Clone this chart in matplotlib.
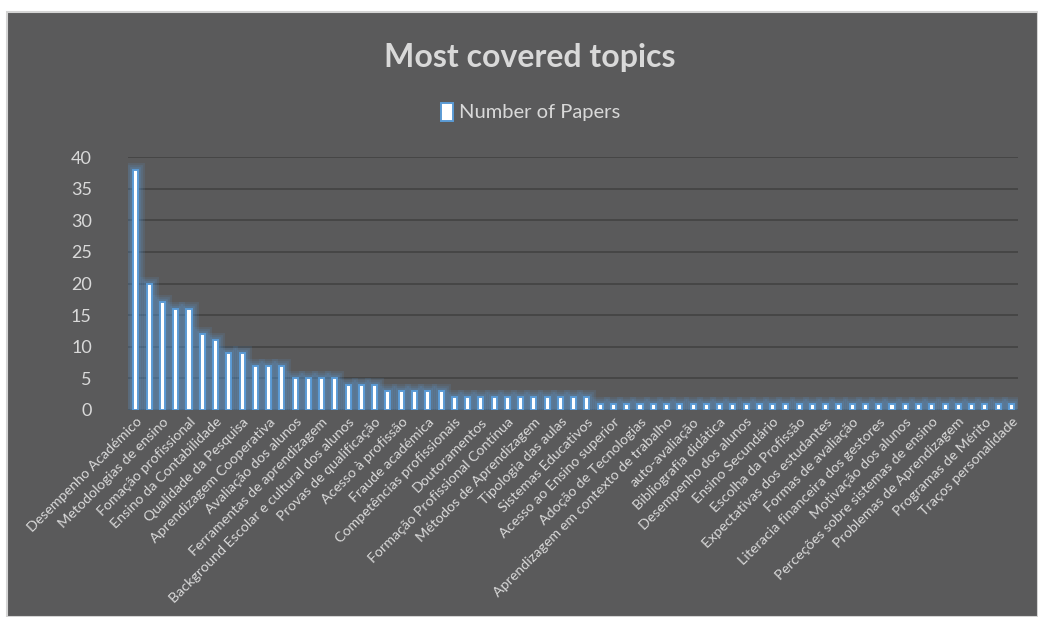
import matplotlib
matplotlib.use("Agg")
import matplotlib.pyplot as plt
from matplotlib.patches import Rectangle
import numpy as np

plt.rcParams['font.family'] = ['Lato', 'DejaVu Sans']

values = [38, 20, 17, 16, 16, 12, 11, 9, 9, 7, 7, 7, 5, 5, 5, 5, 4, 4, 4,
          3, 3, 3, 3, 3,
          2, 2, 2, 2, 2, 2, 2, 2, 2, 2, 2,
          1, 1, 1, 1, 1, 1, 1, 1, 1, 1, 1, 1, 1, 1, 1, 1,
          1, 1, 1, 1, 1, 1, 1, 1, 1, 1, 1, 1, 1, 1, 1, 1]

tick_labels = [
    "Desempenho Académico", "Metodologias de ensino", "Fomação profissional",
    "Ensino da Contabilidade", "Qualidade da Pesquisa", "Aprendizagem Cooperativa",
    "Avaliação dos alunos", "Ferramentas de aprendizagem",
    "Background Escolar e cultural dos alunos", "Provas de qualificação",
    "Acesso à profissão", "Fraude académica", "Competências profissionais",
    "Doutoramentos", "Formação Profissional Contínua", "Métodos de Aprendizagem",
    "Tipologia das aulas", "Sistemas Educativos", "Acesso ao Ensino superior",
    "Adoção de Tecnologias", "Aprendizagem em contexto de trabalho",
    "auto-avaliação", "Bibliografia didática", "Desempenho dos alunos",
    "Ensino Secundário", "Escolha da Profissão", "Expectativas dos estudantes",
    "Formas de avaliação", "Literacia financeira dos gestores",
    "Motivação dos alunos", "Perceções sobre sistemas de ensino",
    "Problemas de Aprendizagem", "Programas de Mérito", "Traços personalidade"]

series_name = "Number of Papers"
title = "Most covered topics"

W, H = 1038, 617
fig = plt.figure(figsize=(W / 100, H / 100), dpi=100, facecolor="white")

panel_col = "#5a5a5b"
text_col = "#d9d9d9"
blue = "#5b9bd5"

panel = Rectangle((7 / W, 0), 1 - 7 / W, 1 - 12 / H, transform=fig.transFigure,
                  facecolor=panel_col, edgecolor="#d4d4d4", linewidth=1.5, zorder=-10)
fig.patches.append(panel)

ax = fig.add_axes([128 / W, 1 - 410 / H, 890 / W, 253 / H])
ax.set_zorder(5)
ax.set_facecolor("none")
x = np.arange(len(values))

# glow
for lw, a in [(10, 0.14), (7, 0.16), (4, 0.22)]:
    ax.bar(x, values, width=0.38, color="none", edgecolor=blue, linewidth=lw, alpha=a, zorder=2)
ax.bar(x, values, width=0.38, color="white", edgecolor=blue, linewidth=1.4, zorder=3,
       label=series_name)

ax.set_xlim(-0.6, len(values) - 0.5)
ax.set_ylim(0, 40)
ax.set_yticks(range(0, 41, 5))
ax.set_xticks(x[::2])
ax.set_xticklabels(tick_labels, rotation=45, ha="right", rotation_mode="anchor",
                   fontsize=10.3, color=text_col)
ax.tick_params(axis="x", length=0, pad=4)
ax.tick_params(axis="y", length=0, labelsize=13, labelcolor=text_col, pad=26)
ax.grid(axis="y", color="#444444", linewidth=1.3, zorder=0)
ax.set_axisbelow(True)
for s in ax.spines.values():
    s.set_visible(False)

fig.text(530 / W, 1 - 58 / H, title, ha="center", va="center", fontsize=23,
         fontweight="bold", color=text_col, zorder=6)
leg = fig.legend(loc="center", bbox_to_anchor=(531 / W, 1 - 112 / H), frameon=False,
                 fontsize=14.5, labelcolor=text_col, handlelength=0.6, handleheight=1.0,
                 handletextpad=0.3)
leg.set_zorder(6)

fig.savefig("out.png", dpi=100, facecolor=fig.get_facecolor())
